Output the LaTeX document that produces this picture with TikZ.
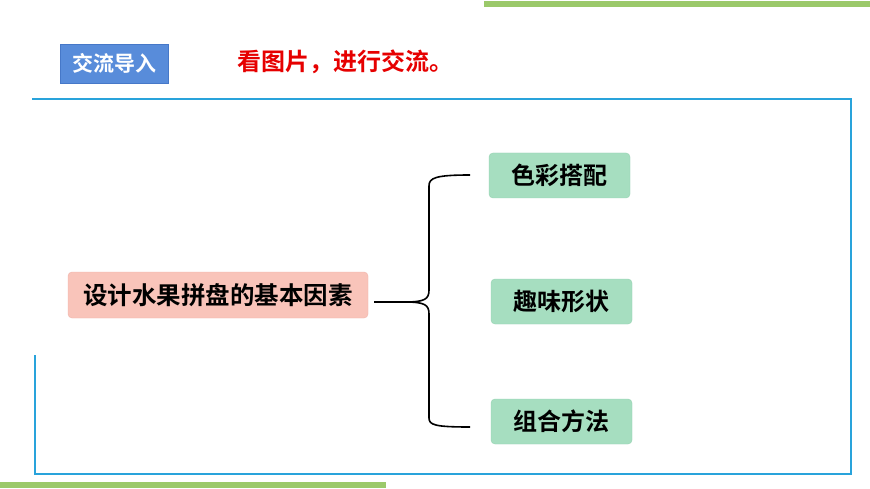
\documentclass[tikz,border=0pt]{standalone}
\usepackage{fontspec}
\setmainfont{Noto Sans CJK SC Bold}
\newfontfamily\cjkb{Noto Sans CJK SC Bold}
\begin{document}
\begin{tikzpicture}[x=1pt,y=-1pt,
  gnode/.style={rounded corners=4pt, fill={rgb,255:red,166;green,222;blue,192}, draw={rgb,255:red,150;green,210;blue,178}, minimum width=141pt, minimum height=45pt, font=\cjkb\fontsize{24}{24}\selectfont},
  pnode/.style={rounded corners=4pt, fill={rgb,255:red,249;green,196;blue,186}, draw={rgb,255:red,240;green,180;blue,170}, minimum width=300pt, minimum height=46pt, font=\cjkb\fontsize{24.5}{24.5}\selectfont, inner sep=0pt},
  brace/.style={draw=black, line width=1.6pt}]
\useasboundingbox (0,0) rectangle (870,489);
\fill[fill=white] (0,0) rectangle (870,489);
\fill[fill={rgb,255:red,155;green,201;blue,106}] (484,1) rectangle (870,7);
\fill[fill={rgb,255:red,155;green,201;blue,106}] (0,482) rectangle (386,488);
\node[fill={rgb,255:red,88;green,140;blue,218}, draw={rgb,255:red,70;green,120;blue,200}, text=white, minimum width=108pt, minimum height=39pt, font=\cjkb\fontsize{21}{21}\selectfont, inner sep=0pt] (tag) at (114,63.5) {交流导入};
\node[text={rgb,255:red,230;green,0;blue,0}, font=\cjkb\fontsize{24}{24}\selectfont, inner sep=0pt] (title) at (345,62) {看图片，进行交流。};
\coordinate (f1) at (32,99);
\coordinate (f2) at (851,99);
\coordinate (f3) at (851,474);
\coordinate (f4) at (35,474);
\coordinate (f5) at (35,355);
\draw[draw={rgb,255:red,41;green,163;blue,219}, line width=1.2pt] (f1) -- (f2) -- (f3) -- (f4) -- (f5);
\node[pnode] (main) at (218,295) {设计水果拼盘的基本因素};
\node[gnode] (a) at (559.5,175.5) {色彩搭配};
\node[gnode] (b) at (561.5,301.5) {趣味形状};
\node[gnode] (c) at (561.5,421.5) {组合方法};
\draw[brace] (main.east) ++(6,7) -- (405,302) .. controls (425,302) and (429,299) .. (429,290)
  -- (429,186) .. controls (429,178) and (435,175) .. (470,175);
\draw[brace] (405,302) .. controls (425,302) and (429,305) .. (429,314)
  -- (429,418) .. controls (429,425) and (435,427) .. (470,427);
\end{tikzpicture}
\end{document}
